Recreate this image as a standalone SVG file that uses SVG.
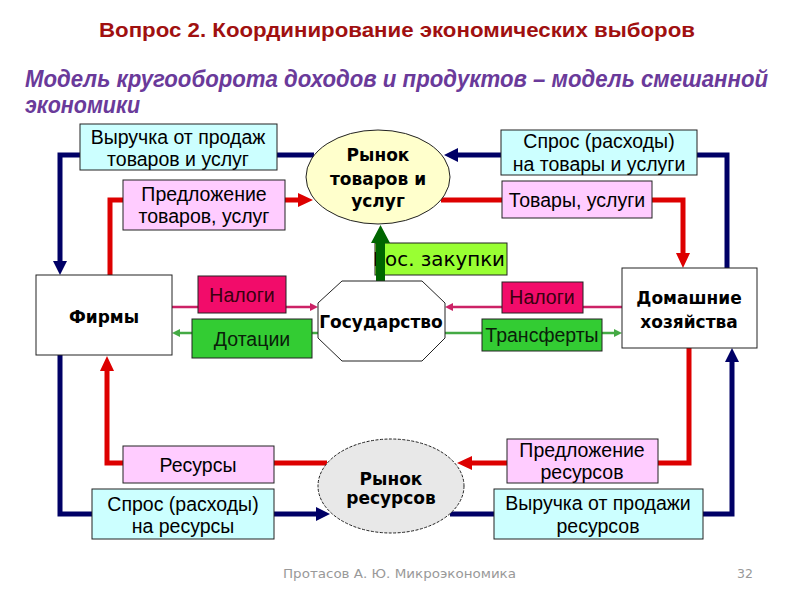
<svg xmlns="http://www.w3.org/2000/svg" width="800" height="600" viewBox="0 0 800 600">
<style>
.lbl{font-family:"Liberation Sans",Arial,sans-serif;font-size:19.5px;fill:#000;text-anchor:middle}
.bold{font-family:"DejaVu Sans",Verdana,sans-serif;font-weight:bold;font-size:17px;fill:#000;text-anchor:middle}
.box{stroke:#222;stroke-width:1}
.cyan{fill:#ccffff}
.pink{fill:#ffccff}
.navy{fill:none;stroke:#000066;stroke-width:5}
.red{fill:none;stroke:#dd0000;stroke-width:5}
.tax{fill:none;stroke:#cc2266;stroke-width:2.5}
.sub{fill:none;stroke:#44aa44;stroke-width:2.5}
</style>
<defs>
<marker id="an" markerUnits="userSpaceOnUse" markerWidth="14" markerHeight="14" refX="0" refY="7" orient="auto"><path d="M0,0 L14,7 L0,14 z" fill="#000066"/></marker>
<marker id="ar" markerUnits="userSpaceOnUse" markerWidth="15" markerHeight="14" refX="0" refY="7" orient="auto"><path d="M0,0 L15,7 L0,14 z" fill="#dd0000"/></marker>
<marker id="at" markerUnits="userSpaceOnUse" markerWidth="8" markerHeight="8" refX="0" refY="4" orient="auto"><path d="M0,0 L8,4 L0,8 z" fill="#cc2266"/></marker>
<marker id="ag" markerUnits="userSpaceOnUse" markerWidth="8" markerHeight="8" refX="0" refY="4" orient="auto"><path d="M0,0 L8,4 L0,8 z" fill="#44aa44"/></marker>
</defs>
<rect width="800" height="600" fill="#fff"/>
<g id="title">
<text x="99" y="37" font-family="Liberation Sans,Arial,sans-serif" font-weight="bold" font-size="21" fill="#a01010" textLength="596" lengthAdjust="spacingAndGlyphs">Вопрос 2. Координирование экономических выборов</text>
<text x="25" y="87" font-family="Liberation Sans,Arial,sans-serif" font-weight="bold" font-style="italic" font-size="23" fill="#6a3a9a" textLength="743" lengthAdjust="spacingAndGlyphs">Модель кругооборота доходов и продуктов – модель смешанной</text>
<text x="25" y="113" font-family="Liberation Sans,Arial,sans-serif" font-weight="bold" font-style="italic" font-size="23" fill="#6a3a9a" textLength="115" lengthAdjust="spacingAndGlyphs">экономики</text>
</g>
<g id="gos-zakupki">
<rect class="box" x="375" y="243" width="132" height="32" fill="#99ff33"/>
<text x="373" y="266" font-family="DejaVu Sans,Verdana,sans-serif" font-size="19" fill="#000" textLength="132" lengthAdjust="spacingAndGlyphs">Гос. закупки</text>
</g>
<g id="connectors">
<path class="navy" d="M314,155 H60 V261" marker-end="url(#an)"/>
<path class="navy" d="M727,268 V155 H458" marker-end="url(#an)"/>
<path class="navy" d="M60,355 V514 H316" marker-end="url(#an)"/>
<path class="navy" d="M450,514 H732 V362" marker-end="url(#an)"/>
<path class="red" d="M110,275 V200 H298" marker-end="url(#ar)"/>
<path class="red" d="M441,200 H683 V253" marker-end="url(#ar)"/>
<path class="red" d="M689,348 V463 H472" marker-end="url(#ar)"/>
<path class="red" d="M327,463 H107 V371" marker-end="url(#ar)"/>
<path class="tax" d="M172,307 H310" marker-end="url(#at)"/>
<path class="tax" d="M622,307 H453" marker-end="url(#at)"/>
<path class="sub" d="M318,333 H180" marker-end="url(#ag)"/>
<path class="sub" d="M445,333 H614" marker-end="url(#ag)"/>
<polygon points="376,281 376,243 371,243 380.5,225 390,243 385,243 385,281" fill="#006600"/>
</g>
<g id="rynok-tovarov">
<ellipse cx="378" cy="177" rx="72" ry="47" fill="#ffffcc" stroke="#222" stroke-width="1"/>
<text class="bold" x="378" y="161">Рынок</text>
<text class="bold" x="378" y="185">товаров и</text>
<text class="bold" x="378" y="207">услуг</text>
</g>
<g id="rynok-resursov">
<ellipse cx="391" cy="486" rx="73" ry="47" fill="#e8e8e8" stroke="#222" stroke-width="1" stroke-dasharray="3,1.5"/>
<text class="bold" x="391" y="485">Рынок</text>
<text class="bold" x="391" y="504">ресурсов</text>
</g>
<g id="gosudarstvo">
<polygon points="342,281 422,281 445,303 445,338 422,361 342,361 318,338 318,303" fill="#fff" stroke="#222" stroke-width="1"/>
<text class="bold" x="381" y="328">Государство</text>
</g>
<g id="firmy">
<rect class="box" x="36" y="275" width="136" height="80" fill="#fff"/>
<text class="bold" x="104" y="323">Фирмы</text>
</g>
<g id="domashnie">
<rect class="box" x="622" y="268" width="135" height="80" fill="#fff"/>
<text class="bold" x="689" y="304">Домашние</text>
<text class="bold" x="689" y="328">хозяйства</text>
</g>
<g id="vyruchka-tovary">
<rect class="box cyan" x="80" y="124" width="197" height="46"/>
<text class="lbl" x="178" y="144">Выручка от продаж</text>
<text class="lbl" x="178" y="166">товаров и услуг</text>
</g>
<g id="predlozhenie-tovarov">
<rect class="box pink" x="123" y="180" width="162" height="50"/>
<text class="lbl" x="204" y="201">Предложение</text>
<text class="lbl" x="204" y="223">товаров, услуг</text>
</g>
<g id="spros-tovary">
<rect class="box cyan" x="501" y="130" width="196" height="45"/>
<text class="lbl" x="599" y="148">Спрос (расходы)</text>
<text class="lbl" x="599" y="171">на товары и услуги</text>
</g>
<g id="tovary-uslugi">
<rect class="box pink" x="502" y="181" width="150" height="37"/>
<text class="lbl" x="577" y="207">Товары, услуги</text>
</g>
<g id="nalogi-firmy">
<rect class="box" x="198" y="276" width="88" height="37" fill="#f20c6a"/>
<text class="lbl" x="242" y="302" style="fill:#3a0010">Налоги</text>
</g>
<g id="dotacii">
<rect class="box" x="192" y="319" width="120" height="39" fill="#33cc33"/>
<text class="lbl" x="252" y="346" style="fill:#0a200a">Дотации</text>
</g>
<g id="nalogi-dh">
<rect class="box" x="502" y="282" width="81" height="31" fill="#f20c6a"/>
<text class="lbl" x="542" y="304" style="fill:#3a0010">Налоги</text>
</g>
<g id="transferty">
<rect class="box" x="482" y="319" width="120" height="32" fill="#33cc33"/>
<text class="lbl" x="542" y="342" style="fill:#0a200a">Трансферты</text>
</g>
<g id="resursy">
<rect class="box pink" x="123" y="446" width="151" height="37"/>
<text class="lbl" x="198" y="472">Ресурсы</text>
</g>
<g id="spros-resursy">
<rect class="box cyan" x="92" y="489" width="182" height="50"/>
<text class="lbl" x="183" y="511">Спрос (расходы)</text>
<text class="lbl" x="183" y="533">на ресурсы</text>
</g>
<g id="predlozhenie-resursov">
<rect class="box pink" x="507" y="439" width="151" height="44"/>
<text class="lbl" x="582" y="457">Предложение</text>
<text class="lbl" x="582" y="479">ресурсов</text>
</g>
<g id="vyruchka-resursy">
<rect class="box cyan" x="494" y="489" width="209" height="50"/>
<text class="lbl" x="598" y="510">Выручка от продажи</text>
<text class="lbl" x="598" y="533">ресурсов</text>
</g>
<g id="footer">
<text x="283" y="578" font-family="DejaVu Sans,Verdana,sans-serif" font-size="12.5" fill="#999" textLength="233" lengthAdjust="spacingAndGlyphs">Протасов А. Ю. Микроэкономика</text>
<text x="737" y="578" font-family="DejaVu Sans,Verdana,sans-serif" font-size="12.5" fill="#999">32</text>
</g>
</svg>
